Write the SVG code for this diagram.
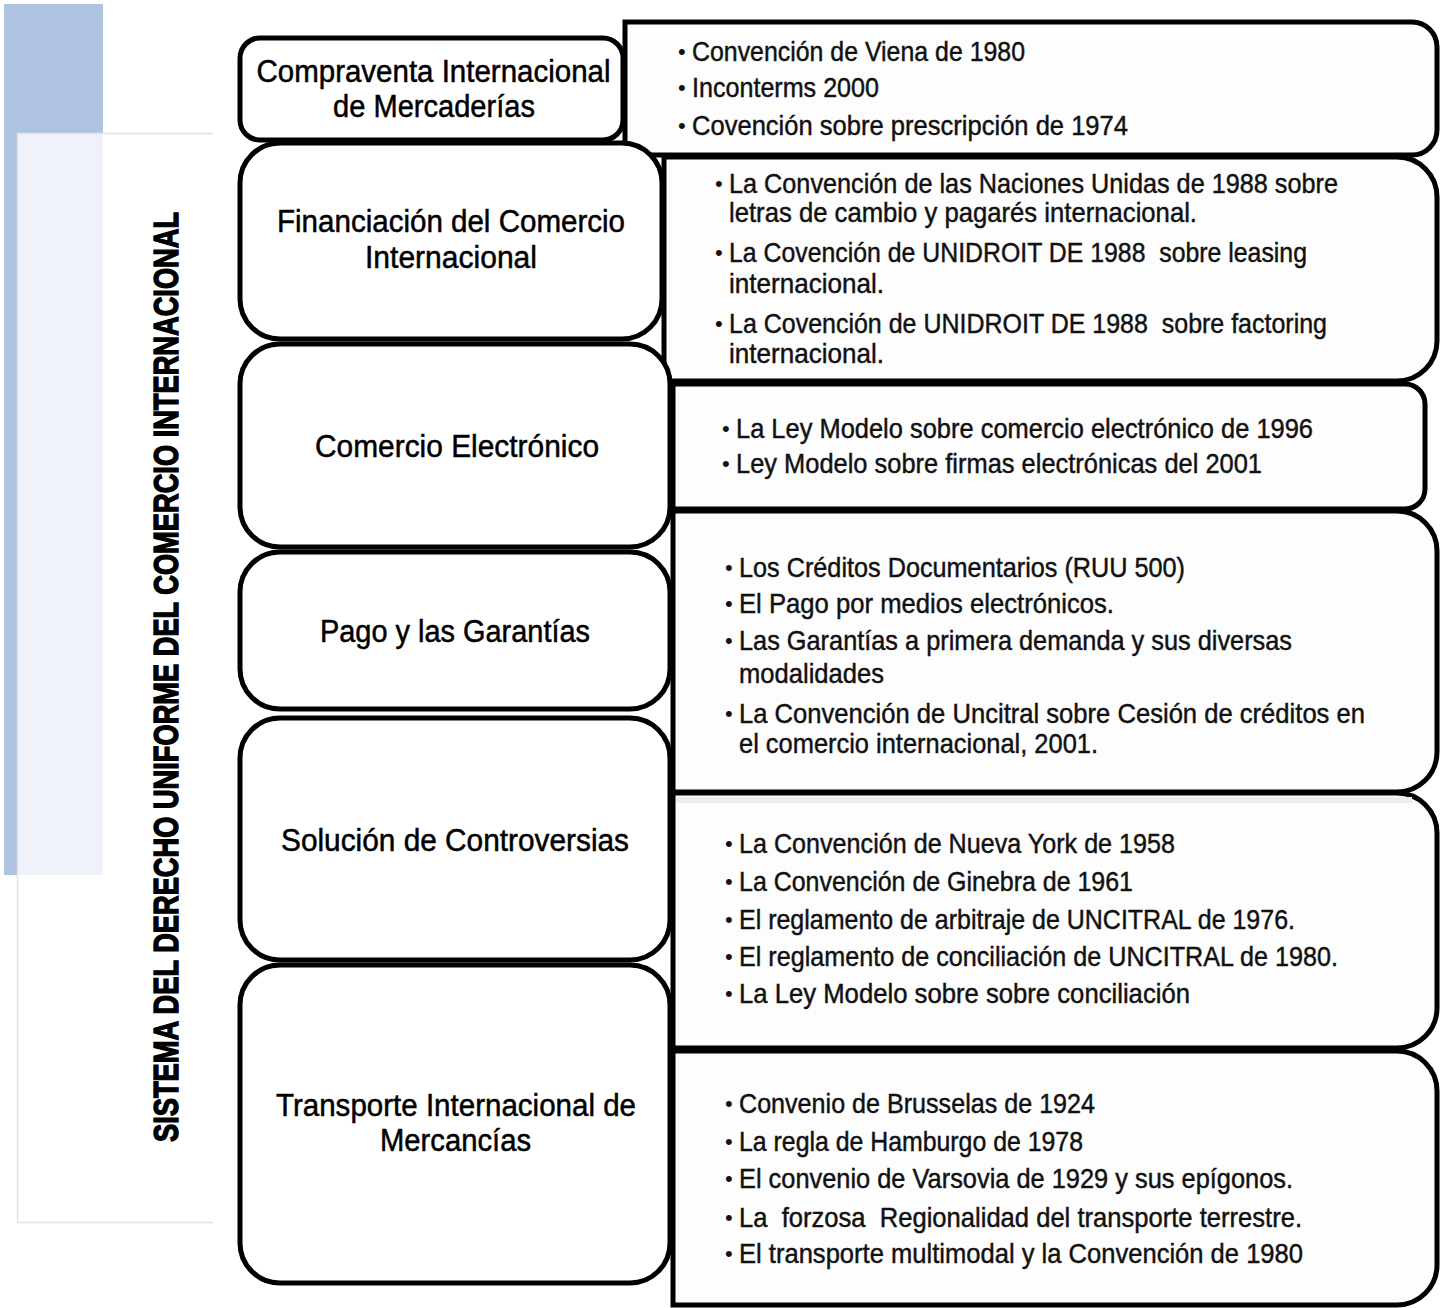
<svg xmlns="http://www.w3.org/2000/svg" width="1444" height="1308" viewBox="0 0 1444 1308">
<style>
.box{fill:#fff;stroke:#000;stroke-width:5}
.rbox{fill:#fdfdfd;stroke:#000;stroke-width:5}
.lbl{font-family:"Liberation Sans",Arial,sans-serif;font-size:31px;fill:#000;stroke:#000;stroke-width:0.5;text-anchor:middle}
.itm{font-family:"Liberation Sans",Arial,sans-serif;font-size:28px;fill:#111;stroke:#111;stroke-width:0.45;white-space:pre}
.bul{font-family:"Liberation Sans",Arial,sans-serif;font-size:22px;fill:#111}
.vert{font-family:"Liberation Sans",Arial,sans-serif;font-size:35px;font-weight:bold;fill:#000;stroke:#000;stroke-width:1.4}
</style>
<rect width="1444" height="1308" fill="#fff"/>
<g id="background">
<rect x="4" y="4" width="99" height="871" fill="#AEC3E0"/>
<rect x="17" y="133" width="196" height="1089" fill="#fff" fill-opacity="0.8"/>
<path d="M213 133.5H17.5V1222.5H213" fill="none" stroke="#e2e2e2" stroke-width="1.5"/>
</g>
<g id="title">
<text class="vert" transform="translate(178,1142) rotate(-90) scale(0.777,1)" textLength="1197" lengthAdjust="spacingAndGlyphs">SISTEMA DEL DERECHO UNIFORME DEL COMERCIO INTERNACIONAL</text>
</g>
<g id="r1">
<path class="rbox" d="M625 22H1412A25 25 0 0 1 1437 47V130A25 25 0 0 1 1412 155H625Z"/>
<text class="bul" x="678" y="59">•</text>
<text class="itm" x="692" y="61" textLength="333" lengthAdjust="spacingAndGlyphs">Convención de Viena de 1980</text>
<text class="bul" x="678" y="95">•</text>
<text class="itm" x="692" y="97" textLength="187" lengthAdjust="spacingAndGlyphs">Inconterms 2000</text>
<text class="bul" x="678" y="133">•</text>
<text class="itm" x="692" y="135" textLength="436" lengthAdjust="spacingAndGlyphs">Covención sobre prescripción de 1974</text>
</g>
<g id="r2">
<path class="rbox" d="M664 157H1397A40 40 0 0 1 1437 197V341A40 40 0 0 1 1397 381H664Z"/>
<text class="bul" x="715" y="191">•</text>
<text class="itm" x="729" y="193" textLength="609" lengthAdjust="spacingAndGlyphs">La Convención de las Naciones Unidas de 1988 sobre</text>
<text class="itm" x="729" y="222" textLength="468" lengthAdjust="spacingAndGlyphs">letras de cambio y pagarés internacional.</text>
<text class="bul" x="715" y="260">•</text>
<text class="itm" x="729" y="262" textLength="578" lengthAdjust="spacingAndGlyphs">La Covención de UNIDROIT DE 1988  sobre leasing</text>
<text class="itm" x="729" y="293" textLength="155" lengthAdjust="spacingAndGlyphs">internacional.</text>
<text class="bul" x="715" y="331">•</text>
<text class="itm" x="729" y="333" textLength="598" lengthAdjust="spacingAndGlyphs">La Covención de UNIDROIT DE 1988  sobre factoring</text>
<text class="itm" x="729" y="363" textLength="155" lengthAdjust="spacingAndGlyphs">internacional.</text>
</g>
<g id="r3">
<path class="rbox" d="M673 384H1405A20 20 0 0 1 1425 404V489A20 20 0 0 1 1405 509H673Z"/>
<text class="bul" x="722" y="436">•</text>
<text class="itm" x="736" y="438" textLength="577" lengthAdjust="spacingAndGlyphs">La Ley Modelo sobre comercio electrónico de 1996</text>
<text class="bul" x="722" y="471">•</text>
<text class="itm" x="736" y="473" textLength="526" lengthAdjust="spacingAndGlyphs">Ley Modelo sobre firmas electrónicas del 2001</text>
</g>
<g id="r4">
<path class="rbox" d="M673 511H1397A40 40 0 0 1 1437 551V752A40 40 0 0 1 1397 792H673Z"/>
<text class="bul" x="725" y="575">•</text>
<text class="itm" x="739" y="577" textLength="446" lengthAdjust="spacingAndGlyphs">Los Créditos Documentarios (RUU 500)</text>
<text class="bul" x="725" y="611">•</text>
<text class="itm" x="739" y="613" textLength="375" lengthAdjust="spacingAndGlyphs">El Pago por medios electrónicos.</text>
<text class="bul" x="725" y="648">•</text>
<text class="itm" x="739" y="650" textLength="553" lengthAdjust="spacingAndGlyphs">Las Garantías a primera demanda y sus diversas</text>
<text class="itm" x="739" y="683" textLength="145" lengthAdjust="spacingAndGlyphs">modalidades</text>
<text class="bul" x="725" y="721">•</text>
<text class="itm" x="739" y="723" textLength="626" lengthAdjust="spacingAndGlyphs">La Convención de Uncitral sobre Cesión de créditos en</text>
<text class="itm" x="739" y="753" textLength="359" lengthAdjust="spacingAndGlyphs">el comercio internacional, 2001.</text>
</g>
<g id="r5">
<path class="rbox" d="M673 793H1397A40 40 0 0 1 1437 833V1008A40 40 0 0 1 1397 1048H673Z"/>
<rect x="676" y="797" width="736" height="6" fill="#ececec"/>
<text class="bul" x="725" y="851">•</text>
<text class="itm" x="739" y="853" textLength="436" lengthAdjust="spacingAndGlyphs">La Convención de Nueva York de 1958</text>
<text class="bul" x="725" y="889">•</text>
<text class="itm" x="739" y="891" textLength="394" lengthAdjust="spacingAndGlyphs">La Convención de Ginebra de 1961</text>
<text class="bul" x="725" y="927">•</text>
<text class="itm" x="739" y="929" textLength="556" lengthAdjust="spacingAndGlyphs">El reglamento de arbitraje de UNCITRAL de 1976.</text>
<text class="bul" x="725" y="964">•</text>
<text class="itm" x="739" y="966" textLength="599" lengthAdjust="spacingAndGlyphs">El reglamento de conciliación de UNCITRAL de 1980.</text>
<text class="bul" x="725" y="1001">•</text>
<text class="itm" x="739" y="1003" textLength="451" lengthAdjust="spacingAndGlyphs">La Ley Modelo sobre sobre conciliación</text>
</g>
<g id="r6">
<path class="rbox" d="M673 1051H1397A40 40 0 0 1 1437 1091V1265A40 40 0 0 1 1397 1305H673Z"/>
<text class="bul" x="725" y="1111">•</text>
<text class="itm" x="739" y="1113" textLength="356" lengthAdjust="spacingAndGlyphs">Convenio de Brusselas de 1924</text>
<text class="bul" x="725" y="1149">•</text>
<text class="itm" x="739" y="1151" textLength="344" lengthAdjust="spacingAndGlyphs">La regla de Hamburgo de 1978</text>
<text class="bul" x="725" y="1186">•</text>
<text class="itm" x="739" y="1188" textLength="554" lengthAdjust="spacingAndGlyphs">El convenio de Varsovia de 1929 y sus epígonos.</text>
<text class="bul" x="725" y="1225">•</text>
<text class="itm" x="739" y="1227" textLength="563" lengthAdjust="spacingAndGlyphs">La  forzosa  Regionalidad del transporte terrestre.</text>
<text class="bul" x="725" y="1261">•</text>
<text class="itm" x="739" y="1263" textLength="564" lengthAdjust="spacingAndGlyphs">El transporte multimodal y la Convención de 1980</text>
</g>
<g id="l1">
<rect class="box" x="240" y="38" width="383" height="102" rx="20"/>
<text class="lbl" x="433.5" y="82" textLength="354" lengthAdjust="spacingAndGlyphs">Compraventa Internacional</text>
<text class="lbl" x="434" y="117" textLength="202" lengthAdjust="spacingAndGlyphs">de Mercaderías</text>
</g>
<g id="l2">
<rect class="box" x="240" y="143" width="422" height="196" rx="40"/>
<text class="lbl" x="451" y="232" textLength="348" lengthAdjust="spacingAndGlyphs">Financiación del Comercio</text>
<text class="lbl" x="451" y="268" textLength="172" lengthAdjust="spacingAndGlyphs">Internacional</text>
</g>
<g id="l3">
<rect class="box" x="240" y="344" width="430" height="203" rx="40"/>
<text class="lbl" x="457" y="457" textLength="284" lengthAdjust="spacingAndGlyphs">Comercio Electrónico</text>
</g>
<g id="l4">
<rect class="box" x="240" y="552" width="430" height="157" rx="40"/>
<text class="lbl" x="455" y="642" textLength="270" lengthAdjust="spacingAndGlyphs">Pago y las Garantías</text>
</g>
<g id="l5">
<rect class="box" x="240" y="718" width="430" height="242" rx="40"/>
<text class="lbl" x="455" y="851" textLength="348" lengthAdjust="spacingAndGlyphs">Solución de Controversias</text>
</g>
<g id="l6">
<rect class="box" x="240" y="965" width="430" height="318" rx="40"/>
<text class="lbl" x="456" y="1116" textLength="360" lengthAdjust="spacingAndGlyphs">Transporte Internacional de</text>
<text class="lbl" x="455.5" y="1151" textLength="151" lengthAdjust="spacingAndGlyphs">Mercancías</text>
</g>
</svg>
